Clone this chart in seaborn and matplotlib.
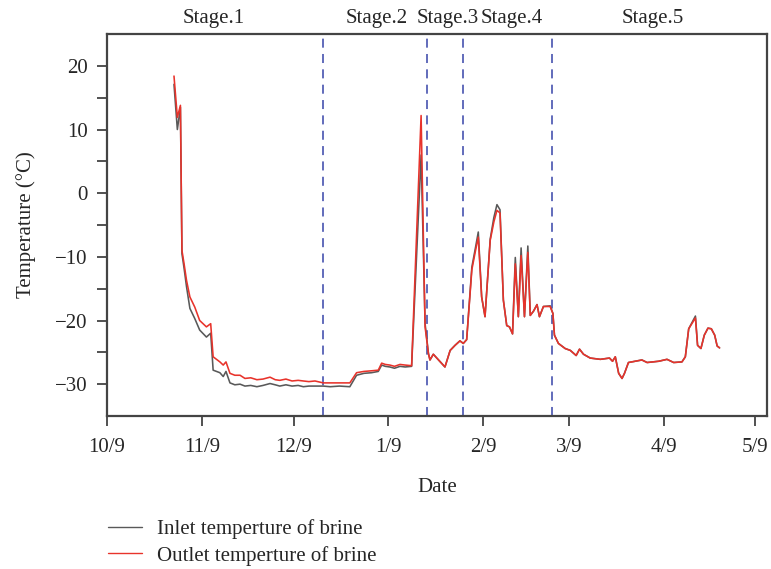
import numpy as np
import pandas as pd
import matplotlib
matplotlib.use("Agg")
import matplotlib.pyplot as plt
import seaborn as sns

# ---- data (days after 2017-10-09) ----
days = [21.9, 23.0, 24.0, 24.5, 25.2, 26.0, 27.1, 28.7, 30.3, 32.5, 33.9, 34.7, 36.9, 38.0, 38.9,
        40.2, 41.8, 43.5, 45.1, 47.0, 49.0, 51.0, 53.3, 55.0, 56.5, 58.5, 60.5, 62.5, 64.2, 66.0,
        68.0, 70.7, 73.0, 76.0, 79.4, 81.6, 84.0, 86.5, 88.7, 89.8, 91.0, 92.5, 94.0, 95.8, 97.5,
        99.6, 102.7, 104.0, 105.1, 105.6, 106.7, 110.5, 112.2, 113.8, 115.4, 116.5, 117.6, 119.3, 120.5,
        121.4, 122.5, 123.6, 125.3, 126.5, 127.5, 128.5, 129.6, 130.7, 131.6, 132.6, 133.5, 134.5,
        135.4, 136.5, 137.6, 138.4, 139.5, 140.6, 141.4, 142.7, 144.9, 145.8, 146.3, 147.6, 149.8,
        151.5, 153.4, 154.5, 155.8, 158.0, 161.3, 164.3, 165.3, 166.2, 167.3, 168.4, 169.2, 170.5,
        172.7, 174.9, 176.6, 180.4, 183.1, 185.3, 188.0, 189.1, 190.2, 192.4, 193.1, 194.2, 195.3,
        196.5, 197.6, 198.7, 199.5, 200.3]

outlet = [18.4, 11.9, 13.8, -9.0, -11.1, -13.7, -16.3, -17.9, -20.0, -21.0, -20.5, -25.7, -26.5, -27.0, -26.5,
          -28.3, -28.6, -28.6, -29.1, -29.0, -29.3, -29.2, -28.9, -29.3, -29.4, -29.2, -29.5, -29.4, -29.5, -29.6,
          -29.5, -29.8, -29.8, -29.8, -29.8, -28.2, -28.0, -27.9, -27.8, -26.7, -26.9, -27.0, -27.2, -26.9, -27.0,
          -27.1, 12.2, -21.0, -25.2, -26.2, -25.3, -27.3, -24.7, -23.9, -23.2, -23.6, -23.0, -12.0, -9.0,
          -6.9, -16.3, -19.4, -7.4, -4.5, -2.7, -3.1, -16.8, -20.8, -21.0, -22.1, -11.1, -19.4,
          -9.8, -19.4, -9.3, -19.2, -18.5, -17.5, -19.4, -17.8, -17.8, -18.9, -22.3, -23.6, -24.4,
          -24.7, -25.5, -24.5, -25.3, -25.9, -26.1, -25.9, -26.4, -25.7, -28.3, -29.1, -28.3, -26.6,
          -26.4, -26.2, -26.6, -26.4, -26.1, -26.6, -26.5, -25.7, -21.3, -19.6, -23.9, -24.4, -22.3,
          -21.2, -21.3, -22.3, -24.0, -24.3]

inlet = [17.1, 10.0, 13.5, -9.5, -11.8, -14.7, -18.1, -19.7, -21.5, -22.6, -22.0, -27.8, -28.2, -28.8, -28.0,
         -29.8, -30.1, -30.0, -30.3, -30.2, -30.4, -30.2, -29.9, -30.1, -30.3, -30.1, -30.3, -30.2, -30.4, -30.3,
         -30.3, -30.3, -30.4, -30.3, -30.4, -28.6, -28.3, -28.2, -28.0, -27.0, -27.2, -27.3, -27.5, -27.2, -27.3,
         -27.2, 6.0, -20.5, -25.2, -26.2, -25.3, -27.3, -24.7, -23.9, -23.2, -23.6, -23.0, -11.6, -8.5,
         -6.1, -16.3, -19.4, -7.2, -3.8, -1.8, -2.6, -16.8, -20.8, -21.0, -22.1, -10.1, -19.4,
         -8.6, -19.4, -8.3, -19.2, -18.5, -17.5, -19.4, -17.8, -17.7, -18.9, -22.3, -23.6, -24.4,
         -24.7, -25.5, -24.5, -25.3, -25.9, -26.1, -25.9, -26.4, -25.7, -28.3, -29.1, -28.3, -26.6,
         -26.4, -26.2, -26.6, -26.4, -26.1, -26.6, -26.5, -25.7, -21.3, -19.3, -23.9, -24.4, -22.3,
         -21.2, -21.3, -22.3, -24.0, -24.3]

stage_bounds = [70.7, 104.5, 116.5, 145.6]
stage_names = ["Stage.1", "Stage.2", "Stage.3", "Stage.4", "Stage.5"]
stage_label_days = [35.0, 88.3, 111.5, 132.5, 178.5]
x_tick_labels = ["10/9", "11/9", "12/9", "1/9", "2/9", "3/9", "4/9", "5/9"]
series_names = ["Inlet temperture of brine", "Outlet temperture of brine"]

start = pd.Timestamp("2017-10-09")
dates = start + pd.to_timedelta(days, unit="D")

df = pd.concat([
    pd.DataFrame({"Date": dates, "Temperature": inlet, "Series": series_names[0]}),
    pd.DataFrame({"Date": dates, "Temperature": outlet, "Series": series_names[1]}),
], ignore_index=True)

sns.set_theme(style="ticks")
plt.rcParams["font.family"] = ["Liberation Serif", "DejaVu Serif"]

FS = 15

fig = plt.figure(figsize=(7.71, 5.69), dpi=100)
ax = fig.add_axes([0.1388, 0.2689, 0.8560, 0.6713])

palette = {series_names[0]: "#595959", series_names[1]: "#e8332b"}
sns.lineplot(data=df, x="Date", y="Temperature", hue="Series", hue_order=series_names,
             palette=palette, linewidth=1.15, errorbar=None, ax=ax, sort=False)

for d in stage_bounds:
    ax.axvline(start + pd.Timedelta(days=d), color="#5560b5", linestyle=(0, (5, 3.5)),
               linewidth=1.3, zorder=1)

ax.set_xlim(start, start + pd.Timedelta(days=215.8))
ax.set_ylim(-35, 25)

tick_dates = [pd.Timestamp(y, m, 9) for y, m in [(2017, 10), (2017, 11), (2017, 12), (2018, 1),
                                                 (2018, 2), (2018, 3), (2018, 4), (2018, 5)]]
ax.set_xticks(tick_dates)
ax.set_xticklabels(x_tick_labels)
yt = np.arange(-30, 21, 5)
ax.set_yticks(yt)
ax.set_yticklabels([("\u2212" + str(abs(int(v))) if v < 0 else str(int(v))) if v % 10 == 0 else ""
                    for v in yt])

ax.tick_params(axis="both", labelsize=FS, length=7, width=1.2, color="#333333", direction="out")
ax.tick_params(axis="x", pad=9)
ax.tick_params(axis="y", pad=7)
for s in ax.spines.values():
    s.set_color("#444444")
    s.set_linewidth(1.6)

ax.set_xlabel("Date", fontsize=FS, labelpad=15)
ax.set_ylabel("Temperature (°C)", fontsize=FS, labelpad=14)

for name, d in zip(stage_names, stage_label_days):
    ax.text(start + pd.Timedelta(days=d), 1.017, name, transform=ax.get_xaxis_transform(),
            ha="center", va="bottom", fontsize=FS)

handles, labels = ax.get_legend_handles_labels()
ax.get_legend().remove()
fig.legend(handles, labels, loc="upper left", bbox_to_anchor=(0.140, 0.087), frameon=False,
           fontsize=FS, handlelength=1.65, handletextpad=0.72, labelspacing=0.3,
           borderaxespad=0, borderpad=0)
for h in fig.legends[0].get_lines():
    h.set_linewidth(1.0)

fig.savefig("out.png", dpi=100)
